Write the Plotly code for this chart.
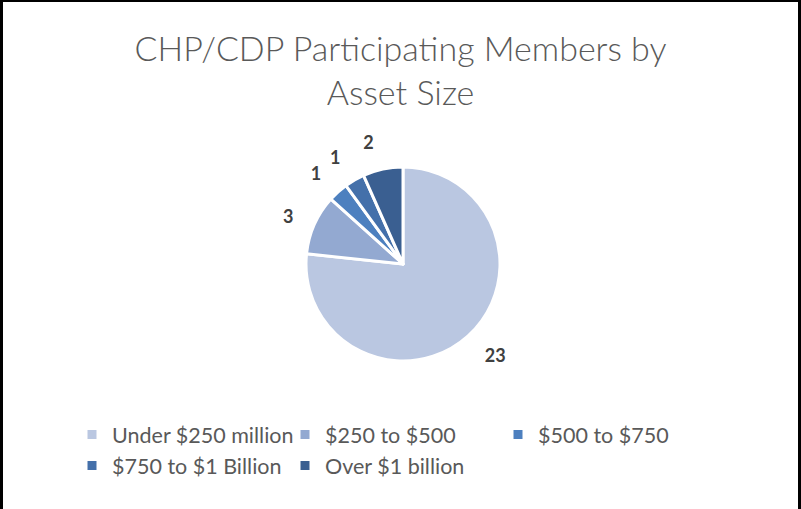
import plotly.graph_objects as go

title_text = "CHP/CDP Participating Members by<br>Asset Size"
categories = ["Under $250 million", "$250 to $500", "$500 to $750",
              "$750 to $1 Billion", "Over $1 billion"]
members = [23, 3, 1, 1, 2]
colors = ["#BAC7E1", "#93A9D1", "#4D80BF", "#4470AA", "#3A5F91"]

W, H = 801, 509
CX, CY, R = 403, 264, 97      # pie centre / radius in pixels
RL = 114                      # radius of the (invisible) label ring


def dom(r):
    return dict(x=[(CX - r) / W, (CX + r) / W],
                y=[(H - CY - r) / H, (H - CY + r) / H])


fig = go.Figure()
fig.add_trace(go.Pie(
    labels=categories,
    values=members,
    sort=False,
    direction="clockwise",
    rotation=0,
    marker=dict(colors=colors, line=dict(color="white", width=3)),
    textinfo="none",
    domain=dom(R),
    hoverinfo="label+value",
))

# transparent rings carrying the value labels a little further out (Excel "outside end");
# split in two so that neighbouring small-slice labels are not pushed aside.
label_sets = [
    ["outside", "outside", "outside", "none", "outside"],
    ["none", "none", "none", "outside", "none"],
]
for tp in label_sets:
    fig.add_trace(go.Pie(
        labels=categories,
        values=members,
        sort=False,
        direction="clockwise",
        rotation=0,
        marker=dict(colors=["rgba(0,0,0,0)"] * len(members), line=dict(width=0)),
        textinfo="value",
        textposition=tp,
        outsidetextfont=dict(family="Lato", size=18, color="#404040", weight="bold"),
        domain=dom(RL),
        showlegend=False,
        hoverinfo="skip",
    ))

fig.update_layout(
    width=W, height=H,
    margin=dict(l=0, r=0, t=0, b=0, autoexpand=False),
    paper_bgcolor="white",
    font=dict(family="Lato", color="#595959"),
    title=dict(text=title_text, x=0.5, xanchor="center", y=1 - 61 / H, yanchor="top",
               font=dict(family="Lato", size=34, color="#595959", weight=300)),
    showlegend=True,
    legend=dict(orientation="h", x=72 / W, xanchor="left", y=1 - 414 / H, yanchor="top",
                entrywidth=168, entrywidthmode="pixels",
                font=dict(family="Lato", size=21.5, color="#595959"),
                itemclick=False),
    shapes=[
        dict(type="rect", xref="paper", yref="paper", x0=0, x1=3 / W, y0=0, y1=1,
             fillcolor="black", line=dict(width=0)),
        dict(type="rect", xref="paper", yref="paper", x0=0, x1=1, y0=1 - 2 / H, y1=1,
             fillcolor="black", line=dict(width=0)),
        dict(type="rect", xref="paper", yref="paper", x0=1 - 3 / W, x1=1, y0=0, y1=1,
             fillcolor="black", line=dict(width=0)),
    ],
)

fig.write_html("out.html",
               config={"displayModeBar": False},
               post_script="document.body.style.margin='0';document.body.style.padding='0';")
